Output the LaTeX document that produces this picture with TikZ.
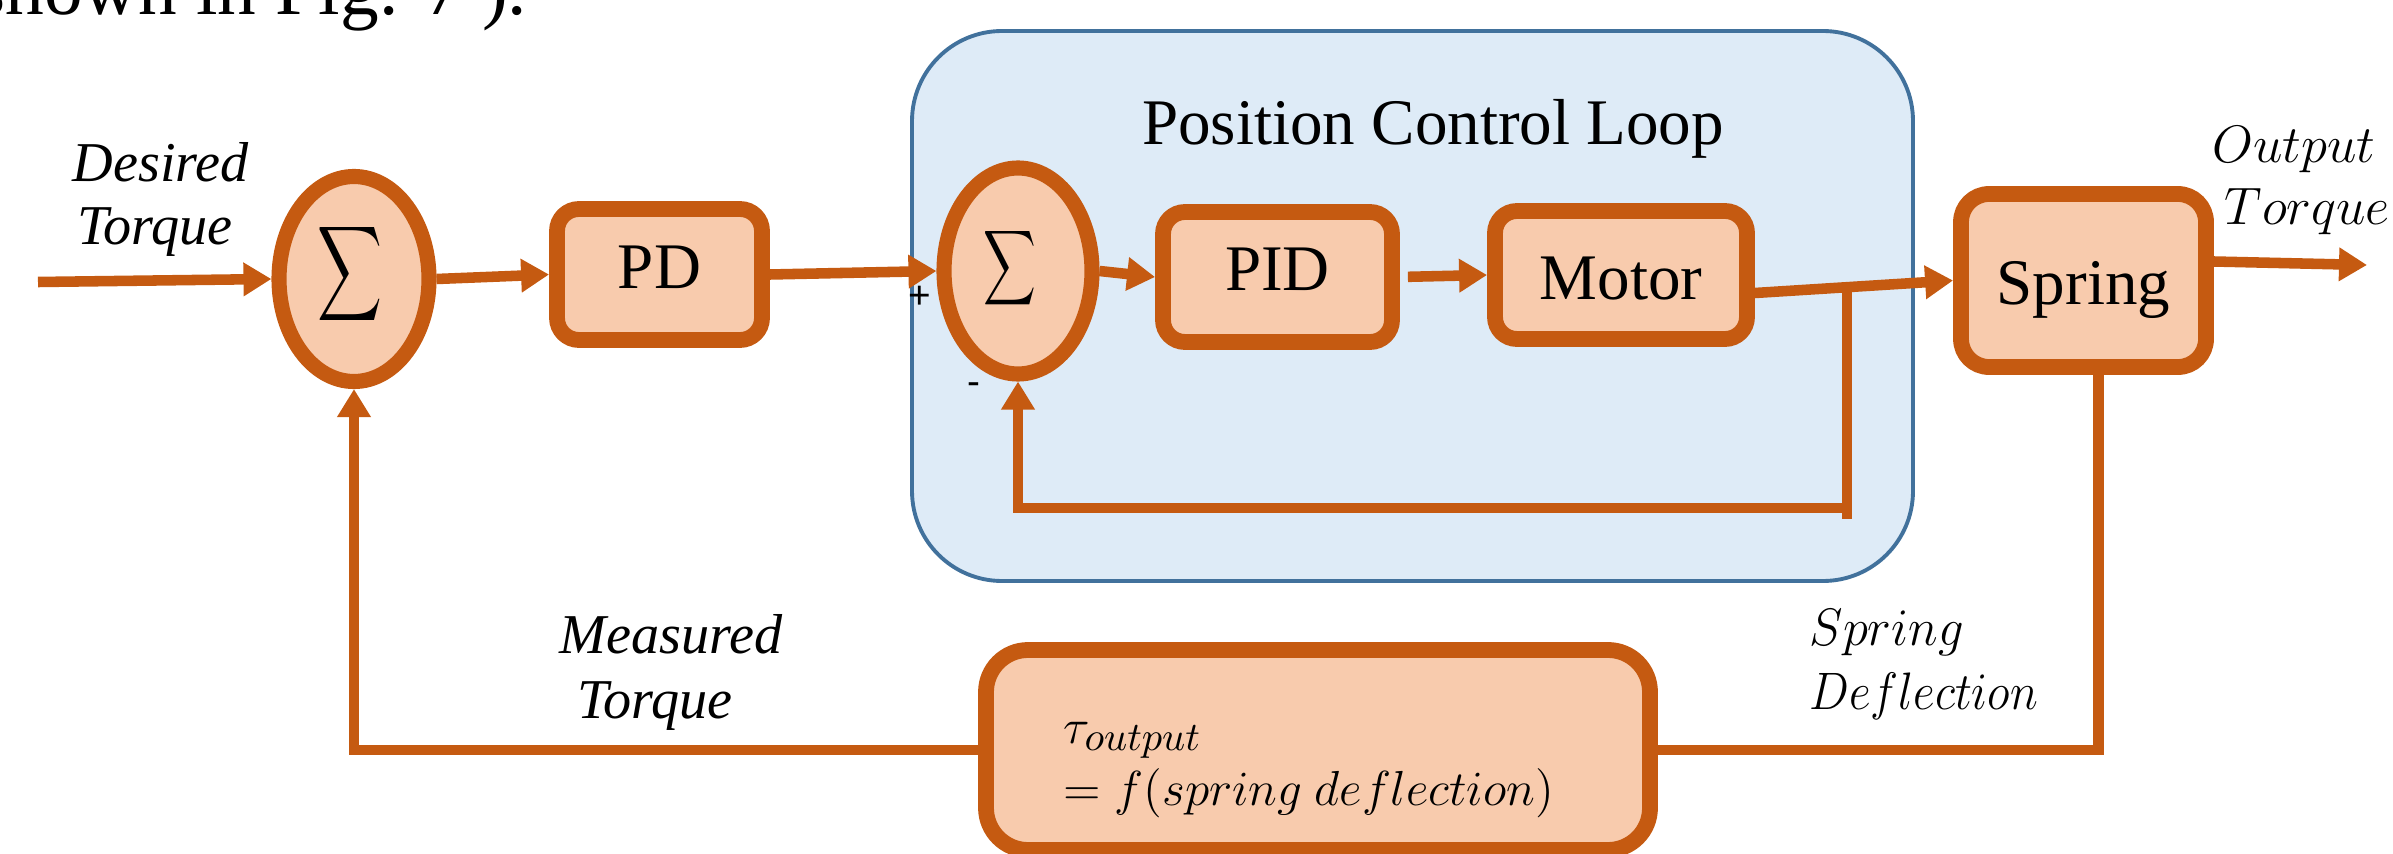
\RequirePackage{fix-cm}
\documentclass[tikz,border=0pt]{standalone}
\usepackage{graphicx}
\usepackage{fontspec}
\setmainfont{Liberation Serif}
\newfontfamily\signfont{Liberation Sans}
\usetikzlibrary{arrows.meta,shapes.geometric,calc}
\definecolor{orgline}{HTML}{C55A11}
\definecolor{orgfill}{HTML}{F8CBAD}
\definecolor{loopfill}{HTML}{DEEBF7}
\definecolor{loopline}{HTML}{41719C}
\begin{document}
\begin{tikzpicture}[x=0.1mm,y=-0.1mm,
  blk/.style={draw=orgline, fill=orgfill, line width=4.5pt, rounded corners=2.2mm, inner sep=0pt,
    font=\fontsize{18.5}{22}\selectfont, text height=12.2pt, text depth=0pt},
  sumnode/.style={ellipse, draw=orgline, fill=orgfill, line width=4.3pt, inner sep=0pt},
  sigma/.style={inner sep=0pt},
  wire/.style={draw=orgline, line width=3pt},
  flow/.style={wire, -{Triangle[length=2.8mm,width=3.2mm]}},
  lbl/.style={anchor=base west, inner sep=0pt, font=\fontsize{16}{19}\selectfont\itshape},
  mlbl/.style={anchor=base west, inner sep=0pt, font=\fontsize{15}{18}\selectfont},
  tl/.style={anchor=base west, inner sep=0pt, font=\fontsize{14}{17}\selectfont},
  sgn/.style={inner sep=0pt, font=\fontsize{11}{13}\selectfont\signfont}
]
\useasboundingbox (0,0) rectangle (2393,854);
\clip (0,0) rectangle (2393,854);

% fragment of surrounding text
\node[anchor=base east, inner sep=0pt, font=\fontsize{22}{26}\selectfont] (frag) at (528,15) {shown in Fig. 7 ).};

% position control loop container
\node[draw=loopline, fill=loopfill, line width=1.1pt, rounded corners=9mm,
      minimum width=100.1mm, minimum height=55mm, inner sep=0pt] (loop) at (1412.5,306) {};
\node[anchor=base, inner sep=0pt, font=\fontsize{18.5}{22}\selectfont] (looptitle) at (1433,145) {Position Control Loop};

% blocks
\node[sumnode, minimum width=15mm, minimum height=20.5mm] (s1) at (354,279) {};
\node[sigma] (sig1) at (349.5,274.5) {\scalebox{1.28}[1.89]{$\displaystyle\sum$}};
\node[blk, minimum width=20.5mm, minimum height=13.1mm, text depth=4pt] (PD) at (659.5,274.5) {PD};
\node[sumnode, minimum width=14.8mm, minimum height=20.6mm] (s2) at (1018,271) {};
\node[sigma] (sig2) at (1009.5,268.5) {\scalebox{1.04}[1.49]{$\displaystyle\sum$}};
\node[blk, minimum width=22.9mm, minimum height=13mm, text depth=4.5pt] (PID) at (1277.5,277) {PID};
\node[blk, minimum width=25.2mm, minimum height=12.8mm, text height=13.9pt] (Motor) at (1621,275) {Motor};
\node[blk, minimum width=24.5mm, minimum height=17.3mm, rounded corners=2.8mm, text height=13.9pt] (Spring) at (2083.5,280.5) {Spring};
\node[blk, minimum width=66.4mm, minimum height=20mm, rounded corners=4.2mm] (tau) at (1318,750) {};
\node[tl] (tauA) at (1063,743) {$\tau_{\mbox{\fontsize{11.5}{14}\selectfont$output$}}$};
\node[tl] (tauB) at (1063,805) {$= f(spring\ deflection)$};

% signs
\node[sgn] (plus) at (920,297) {+};
\node[sgn] (minus) at (974,389) {-};

% labels
\node[lbl] (desA) at (72,182) {Desired};
\node[lbl] (desB) at (77,245) {Torque};
\node[lbl] (meaA) at (559,653) {Measured};
\node[lbl] (meaB) at (577,718) {Torque};
\node[mlbl] (outA) at (2212,163) {$Output$};
\node[mlbl] (outB) at (2224,225) {$Torque$};
\node[mlbl, xscale=0.96] (defA) at (1809,645) {$Spring$};
\node[mlbl, xscale=0.9] (defB) at (1809,709) {$Deflection$};

% connectors
\coordinate (in) at (38,282);
\coordinate (out) at (2367,265);
\draw[flow] (in) -- (s1.west);
\draw[flow] (s1.east) -- (PD.west);
\draw[flow] (PD.east) -- (s2.west);
\draw[flow] (s2.east) -- (PID.west);
\draw[flow, shorten <=0.8mm] (PID.east) -- (Motor.west);
\coordinate (mo) at ($(Motor.east)+(0,18)$);
\draw[flow] (mo) -- (Spring.west);
\coordinate (junc) at ($(mo)!0.465!(Spring.west)$);
\coordinate (fbR) at ($(junc)+(0,221)$);
\draw[wire] (junc) -- ($(junc)+(0,232)$);
\draw[flow] (fbR) -- (s2.south |- fbR) -- (s2.south);
\draw[flow] ($(Spring.east)+(0,-19)$) -- (out);
\draw[wire] ($(Spring.south)+(15,0)$) |- (tau.east);
\draw[flow] (tau.west) -| (s1.south);
\end{tikzpicture}
\end{document}
